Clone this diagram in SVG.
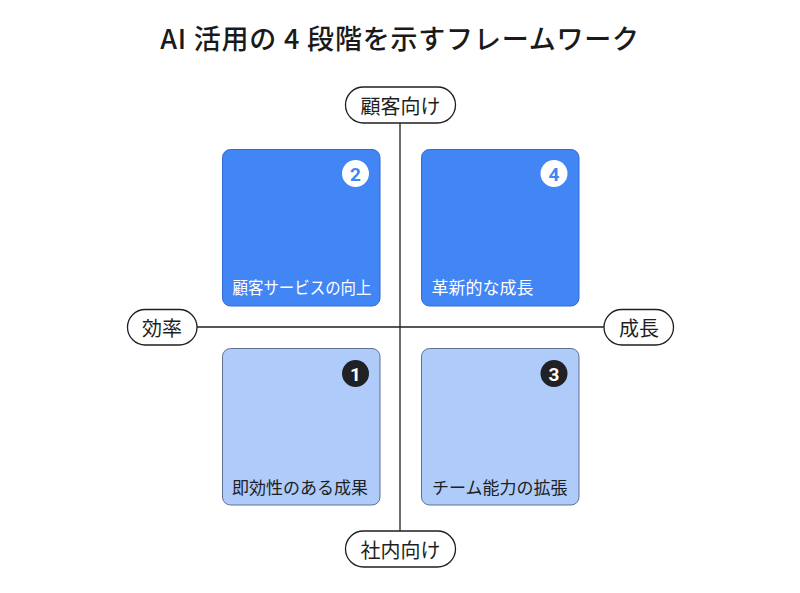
<svg xmlns="http://www.w3.org/2000/svg" width="800" height="593" viewBox="0 0 800 593">
<style>
  text { font-family: "Noto Sans CJK JP", "Noto Sans", sans-serif; }
  .title { font-size: 27px; font-weight: 500; fill: #1a1a1a; letter-spacing: 0.8px; }
  .axis { stroke: #1f1f1f; stroke-width: 1.3; fill: none; }
  .pill { fill: #ffffff; stroke: #1f1f1f; stroke-width: 1.3; }
  .pilltxt { font-size: 20px; fill: #1f1f1f; text-anchor: middle; dominant-baseline: central; }
  .dark { fill: #4285f4; stroke: #3469cf; stroke-width: 1; }
  .light { fill: #aecbfa; stroke: #5f7190; stroke-width: 1; }
  .lblW { font-size: 17px; fill: #ffffff; }
  .lblD { font-size: 17px; fill: #202124; }
  .numBgW { fill: #ffffff; }
  .numBgD { fill: #202124; }
  .numB { font-size: 19px; font-weight: 700; fill: #4285f4; text-anchor: middle; dominant-baseline: central; font-family: "Roboto", "Liberation Sans", sans-serif; }
  .numW { font-size: 19px; font-weight: 700; fill: #ffffff; text-anchor: middle; dominant-baseline: central; font-family: "Roboto", "Liberation Sans", sans-serif; }
</style>
<rect width="800" height="593" fill="#ffffff"/>
<text class="title" x="400" y="49" text-anchor="middle">AI 活用の 4 段階を示すフレームワーク</text>

<g id="connectors">
  <line class="axis" x1="400" y1="123" x2="400" y2="531"/>
  <line class="axis" x1="197" y1="327" x2="604" y2="327"/>
</g>

<g id="q2">
  <rect class="dark" x="222.5" y="149.5" width="157.5" height="156.5" rx="8"/>
  <circle class="numBgW" cx="355.5" cy="173.5" r="13.5"/>
  <text class="numB" x="355.5" y="174">2</text>
  <text class="lblW" x="232.5" y="294" textLength="139" lengthAdjust="spacingAndGlyphs">顧客サービスの向上</text>
</g>
<g id="q4">
  <rect class="dark" x="421.5" y="149.5" width="157.5" height="156.5" rx="8"/>
  <circle class="numBgW" cx="554" cy="173.5" r="13.5"/>
  <text class="numB" x="554" y="174">4</text>
  <text class="lblW" x="431.5" y="294">革新的な成長</text>
</g>
<g id="q1">
  <rect class="light" x="222.5" y="348.5" width="157.5" height="156.5" rx="8"/>
  <circle class="numBgD" cx="355.5" cy="373.5" r="13.5"/>
  <text class="numW" x="355.5" y="374">1</text>
  <text class="lblD" x="232" y="494">即効性のある成果</text>
</g>
<g id="q3">
  <rect class="light" x="421.5" y="348.5" width="157.5" height="156.5" rx="8"/>
  <circle class="numBgD" cx="554" cy="373.5" r="13.5"/>
  <text class="numW" x="554" y="374">3</text>
  <text class="lblD" x="432" y="494">チーム能力の拡張</text>
</g>

<g id="axis-top">
  <rect class="pill" x="345.5" y="87" width="110" height="36" rx="18"/>
  <text class="pilltxt" x="400.5" y="105">顧客向け</text>
</g>
<g id="axis-bottom">
  <rect class="pill" x="345.5" y="531" width="110" height="36" rx="18"/>
  <text class="pilltxt" x="400.5" y="549">社内向け</text>
</g>
<g id="axis-left">
  <rect class="pill" x="127.5" y="309.5" width="69.5" height="35.5" rx="17.75"/>
  <text class="pilltxt" x="162" y="327">効率</text>
</g>
<g id="axis-right">
  <rect class="pill" x="604" y="309.5" width="69.5" height="35.5" rx="17.75"/>
  <text class="pilltxt" x="639" y="327">成長</text>
</g>
</svg>
